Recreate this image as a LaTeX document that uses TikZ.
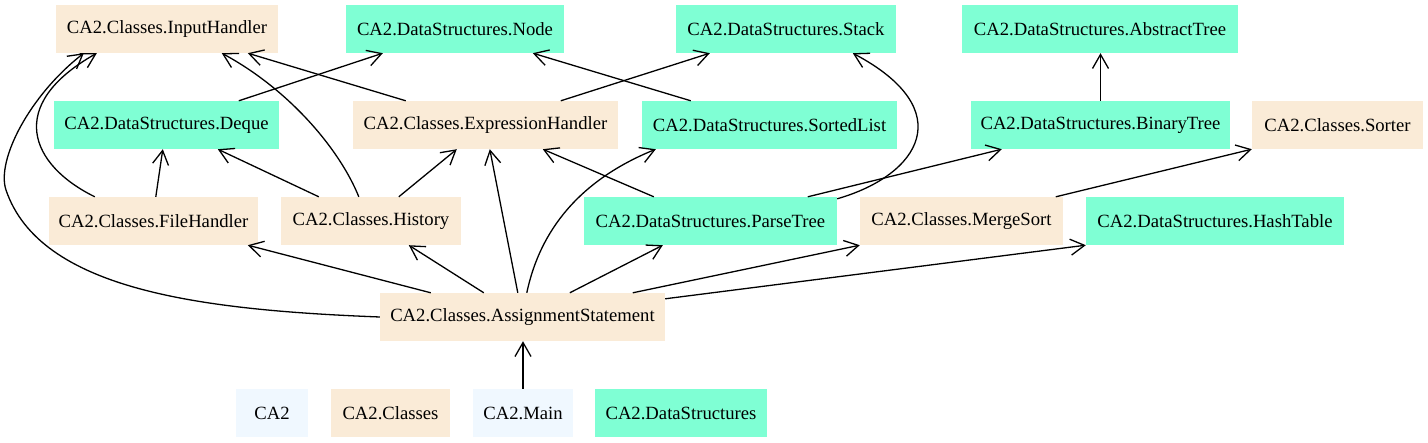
\documentclass[tikz,border=0pt]{standalone}
\usepackage{fontspec}
\setmainfont{Liberation Serif}
\newfontfamily\diagfont{Liberation Serif}
\usetikzlibrary{arrows.meta}
\definecolor{beige}{HTML}{FAEBD7}
\definecolor{aqua}{HTML}{7FFFD4}
\definecolor{alice}{HTML}{F0F8FF}
\begin{document}
\begin{tikzpicture}[x=1pt,y=-1pt,
  box/.style={draw=none,inner sep=0pt,minimum height=48pt,font=\diagfont\fontsize{18.67}{22}\selectfont},
  cls/.style={box,fill=beige},
  dst/.style={box,fill=aqua},
  pkg/.style={box,fill=alice},
  arr/.style={line width=1.3pt,-{Straight Barb[length=14pt,width=16pt]}}]
\useasboundingbox (0,0) rectangle (1428,443);
% row 1
\node[cls,minimum width=222pt] (ih) at (167,29) {CA2.Classes.InputHandler};
\node[dst,minimum width=218pt] (nd) at (455,29) {CA2.DataStructures.Node};
\node[dst,minimum width=220pt] (st) at (786,29) {CA2.DataStructures.Stack};
\node[dst,minimum width=276pt] (at) at (1100,29) {CA2.DataStructures.AbstractTree};
% row 2
\node[dst,minimum width=225pt] (dq) at (166.5,125) {CA2.DataStructures.Deque};
\node[cls,minimum width=265pt] (eh) at (485.5,125) {CA2.Classes.ExpressionHandler};
\node[dst,minimum width=255pt] (sl) at (769.5,125) {CA2.DataStructures.SortedList};
\node[dst,minimum width=259pt] (bt) at (1100.5,125) {CA2.DataStructures.BinaryTree};
\node[cls,minimum width=171pt] (so) at (1337.5,125) {CA2.Classes.Sorter};
% row 3
\node[cls,minimum width=209pt] (fh) at (153.5,221) {CA2.Classes.FileHandler};
\node[cls,minimum width=180pt] (hi) at (371,221) {CA2.Classes.History};
\node[dst,minimum width=253pt] (pt) at (710.5,221) {CA2.DataStructures.ParseTree};
\node[cls,minimum width=203pt] (ms) at (961.5,221) {CA2.Classes.MergeSort};
\node[dst,minimum width=258pt] (ht) at (1215,221) {CA2.DataStructures.HashTable};
% row 4
\node[cls,minimum width=285pt] (as) at (522.5,317) {CA2.Classes.AssignmentStatement};
% row 5
\node[pkg,minimum width=72pt] (ca2) at (272,413) {CA2};
\node[cls,minimum width=119pt] (cl) at (390.5,413) {CA2.Classes};
\node[pkg,minimum width=100pt] (mn) at (523,413) {CA2.Main};
\node[dst,minimum width=172pt] (ds) at (681,413) {CA2.DataStructures};
% edges
\draw[arr] (mn.north) -- (mn.north |- as.south);
\draw[arr] (bt.north) -- (bt.north |- at.south);
\draw[arr] ([xshift=107pt]fh.north west) -- ([xshift=109pt]dq.south west);
\draw[arr] ([xshift=38pt]hi.north west) -- ([xshift=164pt]dq.south west);
\draw[arr] ([xshift=118pt]hi.north west) -- ([xshift=104pt]eh.south west);
\draw[arr] ([xshift=53pt]eh.north west) -- ([xshift=192pt]ih.south west);
\draw[arr] ([xshift=185pt]dq.north west) -- ([xshift=37pt]nd.south west);
\draw[arr] ([xshift=208pt]eh.north west) -- ([xshift=34pt]st.south west);
\draw[arr] ([xshift=49pt]sl.north west) -- ([xshift=187pt]nd.south west);
\draw[arr] ([xshift=70pt]pt.north west) -- ([xshift=190pt]eh.south west);
\draw[arr] ([xshift=224pt]pt.north west) -- ([xshift=31pt]bt.south west);
\draw[arr] ([xshift=196pt]ms.north west) -- (so.south west);
\draw[arr] ([xshift=51pt]as.north west) -- ([xshift=199pt]fh.south west);
\draw[arr] ([xshift=104pt]as.north west) -- ([xshift=128pt]hi.south west);
\draw[arr] ([xshift=138pt]as.north west) -- ([xshift=137pt]eh.south west);
\draw[arr] ([xshift=190pt]as.north west) -- ([xshift=79pt]pt.south west);
\draw[arr] ([xshift=253pt]as.north west) -- (ms.south west);
\draw[arr] ([yshift=-6pt]as.north east) -- (ht.south west);
% curved edges
\draw[arr] (as.west) .. controls (200,310) and (40,290) .. (6,190)
  .. controls (-4,160) and (30,95) .. ([xshift=28pt]ih.south west);
\draw[arr] ([xshift=46pt]fh.north west) .. controls (30,165) and (5,105) .. ([xshift=41pt]ih.south west);
\draw[arr] ([xshift=78pt]hi.north west) .. controls (340,150) and (290,90) .. ([xshift=166pt]ih.south west);
\draw[arr] ([yshift=-2pt]pt.north east) .. controls (920,175) and (960,110) .. ([xshift=177pt]st.south west);
\draw[arr] ([xshift=147pt]as.north west) .. controls (540,230) and (580,180) .. ([xshift=14pt]sl.south west);
\end{tikzpicture}
\end{document}
